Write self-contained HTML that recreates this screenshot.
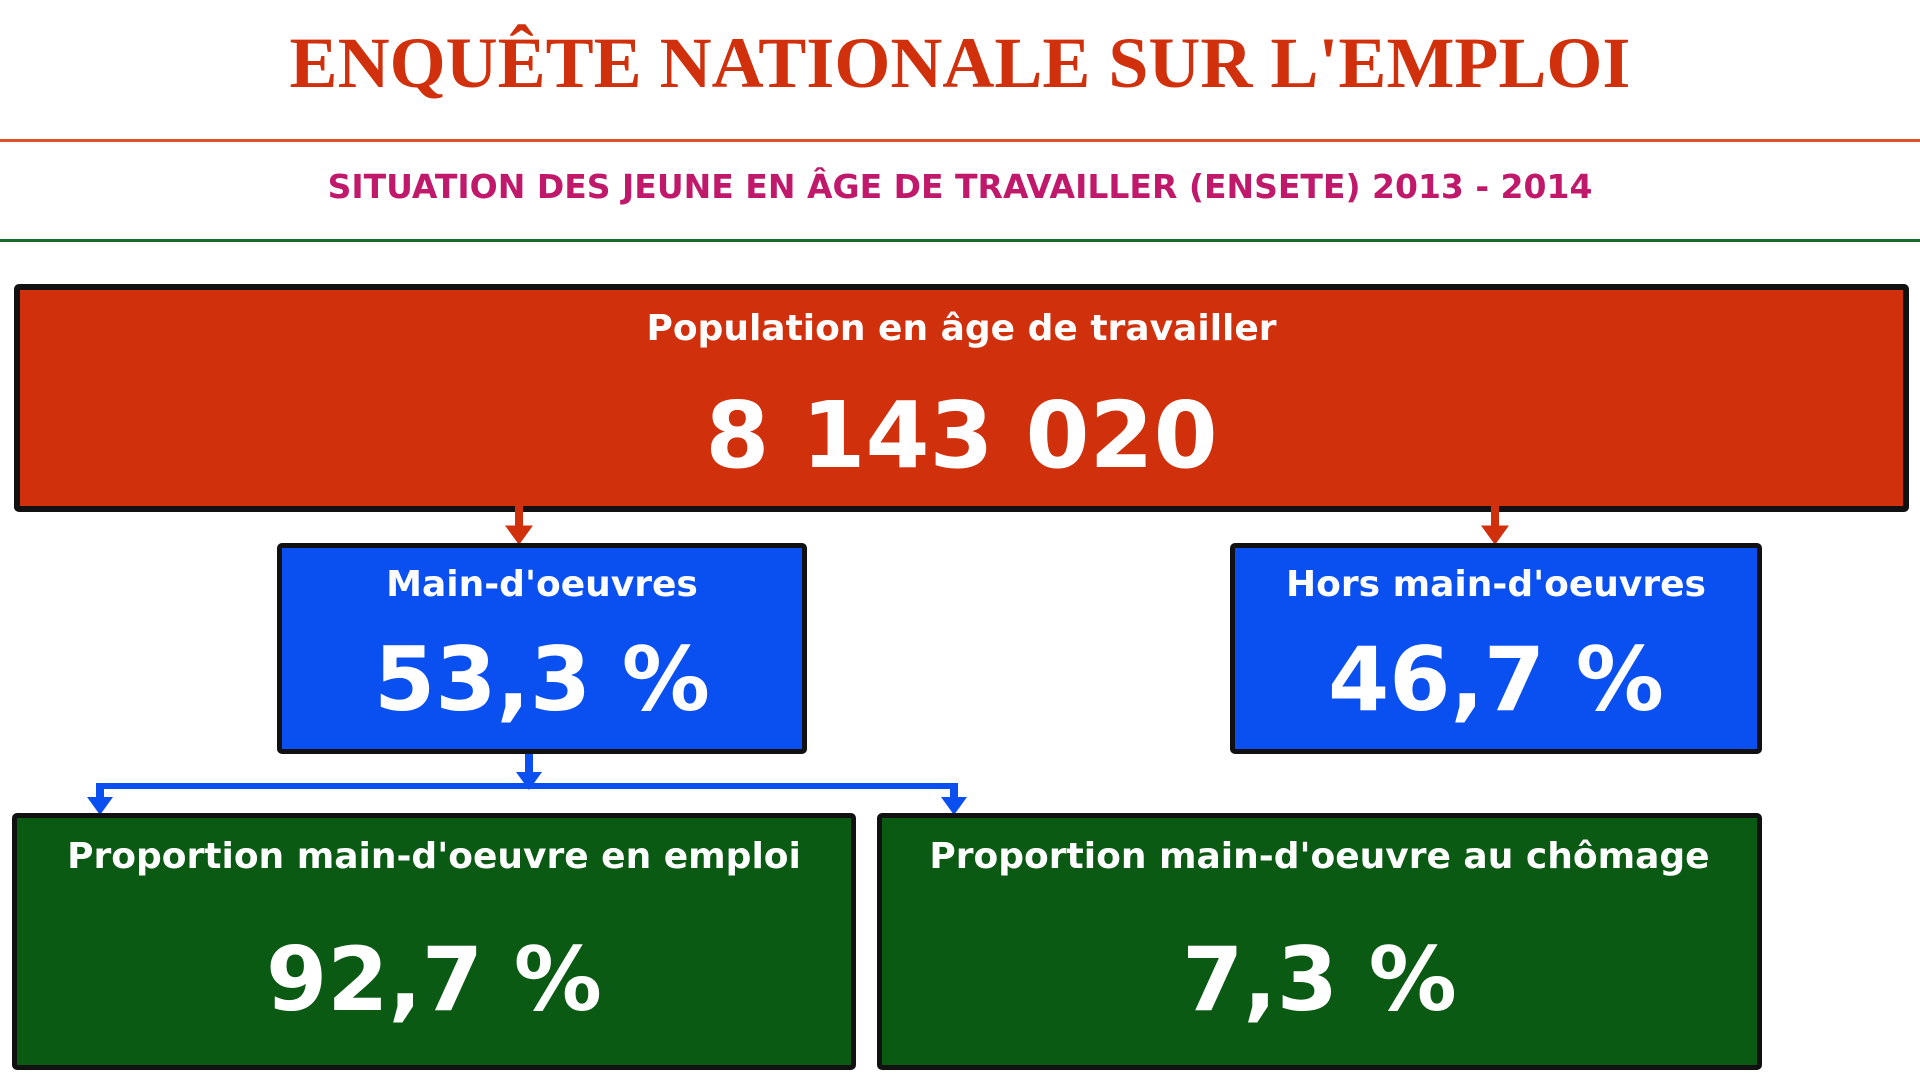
<!DOCTYPE html>
<html><head><meta charset="utf-8"><style>
body{margin:0;width:1920px;height:1080px;background:#fff;position:relative;overflow:hidden;font-family:"DejaVu Sans","Liberation Sans",sans-serif;}
.abs{position:absolute;}
.box{position:absolute;box-sizing:border-box;border:5px solid #111;border-radius:5px;color:#fff;text-align:center;font-weight:bold;}
.lab{position:absolute;left:0;right:0;font-size:36px;}
.val{position:absolute;left:0;right:0;font-size:88px;}
</style></head><body>
<div class="abs" style="left:0;right:0;top:22px;text-align:center;font-family:'Liberation Serif',serif;font-weight:bold;font-size:72px;color:#d0300c;">ENQUÊTE NATIONALE SUR L'EMPLOI</div>
<div class="abs" style="left:0;width:1920px;top:139px;height:3px;background:#e0502a;"></div>
<div class="abs" style="left:0;right:0;top:167px;text-align:center;font-weight:bold;font-size:33px;color:#c0186a;">SITUATION DES JEUNE EN ÂGE DE TRAVAILLER (ENSETE) 2013 - 2014</div>
<div class="abs" style="left:0;width:1920px;top:239px;height:3px;background:#1a6a2a;"></div>

<div class="box" style="left:14px;top:284px;width:1895px;height:228px;background:#d0300c;border-width:6px;">
 <div class="lab" style="top:18px;">Population en âge de travailler</div>
 <div class="val" style="top:92px;font-size:92px;">8 143 020</div>
</div>

<svg class="abs" style="left:0;top:0;" width="1920" height="1080">
 <g fill="#d0300c" stroke="#d0300c">
  <rect x="515" y="505" width="8" height="24" stroke="none"/><polygon points="506,526 532,526 519,544"/>
  <rect x="1491" y="505" width="8" height="24" stroke="none"/><polygon points="1482,526 1508,526 1495,544"/>
 </g>
 <g fill="#0a50f0">
  <rect x="525" y="752" width="8" height="24"/><polygon points="516,772 542,772 529,790"/>
  <rect x="96" y="783" width="862" height="6"/>
  <rect x="96" y="783" width="8" height="17"/><polygon points="87,797 113,797 100,815"/>
  <rect x="950" y="783" width="8" height="17"/><polygon points="941,797 967,797 954,815"/>
 </g>
</svg>

<div class="box" style="left:277px;top:543px;width:530px;height:211px;background:#0a50f0;">
 <div class="lab" style="top:16px;">Main-d'oeuvres</div>
 <div class="val" style="top:80px;">53,3 %</div>
</div>
<div class="box" style="left:1230px;top:543px;width:532px;height:211px;background:#0a50f0;">
 <div class="lab" style="top:16px;">Hors main-d'oeuvres</div>
 <div class="val" style="top:80px;">46,7 %</div>
</div>

<div class="box" style="left:12px;top:813px;width:844px;height:257px;background:#0a5a14;">
 <div class="lab" style="top:18px;">Proportion main-d'oeuvre en emploi</div>
 <div class="val" style="top:110px;">92,7 %</div>
</div>
<div class="box" style="left:877px;top:813px;width:885px;height:257px;background:#0a5a14;">
 <div class="lab" style="top:18px;">Proportion main-d'oeuvre au chômage</div>
 <div class="val" style="top:110px;">7,3 %</div>
</div>
</body></html>
